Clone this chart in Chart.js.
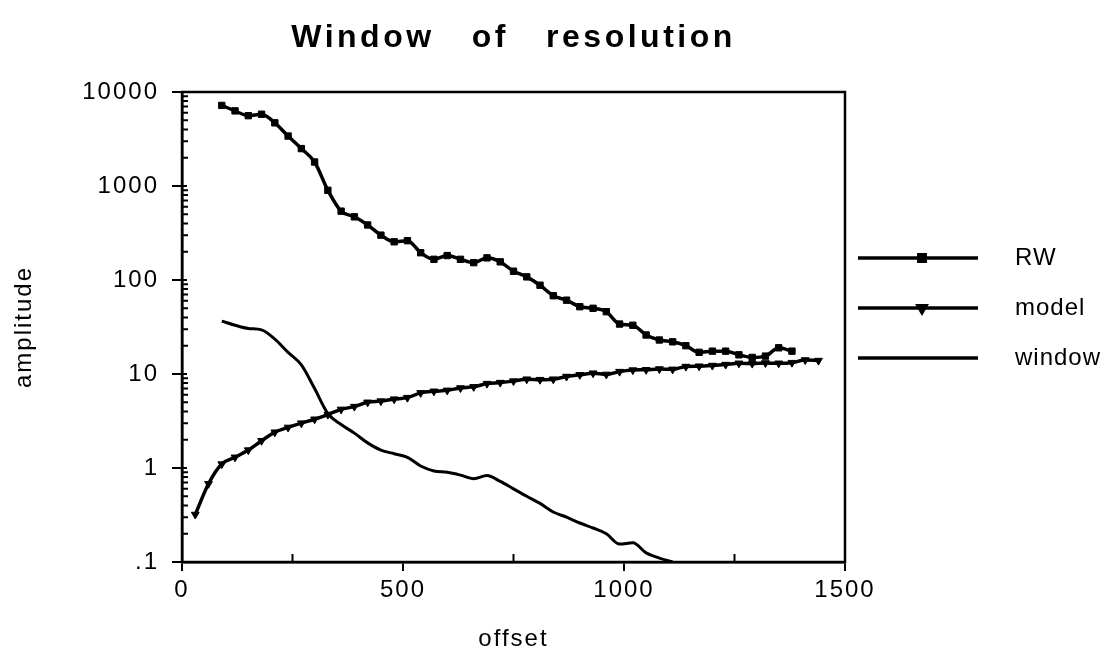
<!DOCTYPE html>
<html lang="en">
<head>
<meta charset="UTF-8">
<title>Window of resolution</title>
<script src="https://cdn.jsdelivr.net/npm/chart.js"></script>
<style>
  html, body { margin: 0; padding: 0; background: #fff; }
  canvas { display: block; }
</style>
</head>
<body>
<canvas id="grafico" width="1118" height="657"></canvas>
<script>
// values (offset -> amplitude)
const rwOffsets = [90,120,150,180,210,240,270,300,330,360,390,420,450,480,510,540,570,600,630,660,690,720,750,780,810,840,870,900,930,960,990,1020,1050,1080,1110,1140,1170,1200,1230,1260,1290,1320,1350,1380];
const rwValues = [7200,6300,5600,5800,4700,3400,2500,1800,900,540,470,385,300,255,262,195,166,182,166,153,172,156,124,108,88,68,61,52,50,46,34,33,26,23,22,20,17,17.5,17.5,16,15,15.5,19,17.5];

const modelOffsets = [30,60,90,120,150,180,210,240,270,300,330,360,390,420,450,480,510,540,570,600,630,660,690,720,750,780,810,840,870,900,930,960,990,1020,1050,1080,1110,1140,1170,1200,1230,1260,1290,1320,1350,1380,1410,1440];
const modelValues = [0.32,0.68,1.1,1.3,1.55,1.95,2.4,2.7,3.0,3.3,3.7,4.2,4.5,5.0,5.15,5.4,5.6,6.3,6.55,6.7,7.1,7.3,7.9,8.1,8.4,8.8,8.7,8.8,9.4,9.8,10.2,9.9,10.6,11.0,11.1,11.3,11.2,12.0,12.1,12.3,12.6,13.0,12.9,13.1,13.0,13.2,14.1,13.9];

const windowOffsets = [90,120,150,180,210,240,270,300,330,360,390,420,450,480,510,540,570,600,630,660,690,720,750,780,810,840,870,900,930,960,990,1020,1050,1080,1110];
const windowValues = [36.5,33,30.5,29.5,23.5,17,12.5,7,3.8,2.9,2.35,1.85,1.55,1.42,1.3,1.05,0.93,0.9,0.84,0.77,0.83,0.72,0.6,0.5,0.42,0.34,0.3,0.26,0.23,0.2,0.155,0.16,0.125,0.11,0.1];

const seriesNames = ['RW', 'model', 'window'];

const xTickValues = [0, 500, 1000, 1500];
const xTickLabels = ['0', '500', '1000', '1500'];
const xMinorTicks = [250, 750, 1250];
const yTickValues = [0.1, 1, 10, 100, 1000, 10000];
const yTickLabels = ['.1', '1', '10', '100', '1000', '10000'];

const fonte = '"Liberation Sans", Arial, sans-serif';

function pontos(offsets, valores) {
    return offsets.map((o, i) => ({ x: o, y: valores[i] }));
}

// white page, slightly spaced lettering like the original
const fundo = {
    id: 'fundo',
    beforeDraw(chart) {
        const ctx = chart.ctx;
        ctx.save();
        ctx.fillStyle = '#fff';
        ctx.fillRect(0, 0, chart.width, chart.height);
        ctx.restore();
        ctx.letterSpacing = '2px';
    }
};

// frame, inside ticks, title and legend
const extras = {
    id: 'extras',
    afterDraw(chart) {
        const ctx = chart.ctx;
        const a = chart.chartArea;
        const x = chart.scales.x;
        const y = chart.scales.y;
        ctx.save();
        ctx.strokeStyle = '#000';
        ctx.fillStyle = '#000';

        ctx.lineWidth = 2;
        ctx.beginPath();
        for (let e = -1; e < 4; e++) {
            for (let m = 2; m <= 9; m++) {
                const py = y.getPixelForValue(m * Math.pow(10, e));
                ctx.moveTo(a.left, py);
                ctx.lineTo(a.left + 6, py);
            }
        }
        yTickValues.forEach(v => {
            const py = y.getPixelForValue(v);
            ctx.moveTo(a.left, py);
            ctx.lineTo(a.left + 5, py);
        });
        xMinorTicks.forEach(v => {
            const px = x.getPixelForValue(v);
            ctx.moveTo(px, a.bottom);
            ctx.lineTo(px, a.bottom - 8);
        });
        ctx.stroke();

        ctx.lineWidth = 2.5;
        ctx.strokeRect(a.left, a.top, a.right - a.left, a.bottom - a.top);

        // title
        ctx.letterSpacing = '3.5px';
        ctx.font = 'bold 32px ' + fonte;
        ctx.textAlign = 'center';
        ctx.textBaseline = 'middle';
        ctx.fillText('Window   of   resolution', (a.left + a.right) / 2, 38);

        // legend
        ctx.letterSpacing = '1px';
        ctx.font = '24px ' + fonte;
        ctx.textAlign = 'left';
        chart.data.datasets.forEach((ds, i) => {
            const ly = 258 + i * 50;
            ctx.lineWidth = 3.5;
            ctx.beginPath();
            ctx.moveTo(858, ly);
            ctx.lineTo(978, ly);
            ctx.stroke();
            if (ds.pointRadius > 0) {
                Chart.helpers.drawPoint(ctx, {
                    pointStyle: ds.pointStyle,
                    rotation: ds.pointRotation || 0,
                    radius: ds.pointRadius,
                    borderWidth: 1
                }, 922, ly);
            }
            ctx.fillText(ds.label, 1015, ly);
        });
        ctx.restore();
    }
};

const grafico = new Chart(document.getElementById('grafico'), {
    type: 'line',
    data: {
        datasets: [
            {
                label: seriesNames[0],
                data: pontos(rwOffsets, rwValues),
                borderColor: '#000',
                backgroundColor: '#000',
                borderWidth: 3.5,
                pointStyle: 'rect',
                pointRadius: 4.5,
                pointBorderWidth: 1,
                cubicInterpolationMode: 'monotone'
            },
            {
                label: seriesNames[1],
                data: pontos(modelOffsets, modelValues),
                borderColor: '#000',
                backgroundColor: '#000',
                borderWidth: 3.5,
                pointStyle: 'triangle',
                pointRotation: 180,
                pointRadius: 4.5,
                pointBorderWidth: 1,
                cubicInterpolationMode: 'monotone'
            },
            {
                label: seriesNames[2],
                data: pontos(windowOffsets, windowValues),
                borderColor: '#000',
                backgroundColor: '#000',
                borderWidth: 3,
                pointRadius: 0,
                cubicInterpolationMode: 'monotone'
            }
        ]
    },
    options: {
        responsive: false,
        animation: false,
        layout: { padding: { top: 92, right: 273, left: 0, bottom: 0 } },
        plugins: {
            legend: { display: false },
            title: { display: false },
            tooltip: { enabled: false }
        },
        scales: {
            x: {
                type: 'linear',
                min: 0,
                max: 1500,
                afterFit(s) { s.height = 95; },
                afterBuildTicks(s) { s.ticks = xTickValues.map(v => ({ value: v })); },
                grid: { drawOnChartArea: false, color: '#000', lineWidth: 2, tickLength: 9 },
                border: { color: '#000', width: 2.5 },
                ticks: {
                    color: '#000',
                    font: { family: fonte, size: 24 },
                    padding: 5,
                    maxRotation: 0,
                    callback: (v, i) => xTickLabels[i]
                },
                title: {
                    display: true,
                    text: 'offset',
                    color: '#000',
                    font: { family: fonte, size: 24 },
                    padding: { top: 0, bottom: 3 }
                }
            },
            y: {
                type: 'logarithmic',
                min: 0.1,
                max: 10000,
                afterFit(s) { s.width = 182; },
                afterBuildTicks(s) { s.ticks = yTickValues.map(v => ({ value: v })); },
                grid: { drawOnChartArea: false, color: '#000', lineWidth: 2, tickLength: 10 },
                border: { color: '#000', width: 2.5 },
                ticks: {
                    color: '#000',
                    font: { family: fonte, size: 24 },
                    padding: 13,
                    callback: (v, i) => yTickLabels[i]
                },
                title: {
                    display: true,
                    text: 'amplitude',
                    color: '#000',
                    font: { family: fonte, size: 24 },
                    padding: { top: 10, bottom: 0 }
                }
            }
        }
    },
    plugins: [fundo, extras]
});
</script>
</body>
</html>
